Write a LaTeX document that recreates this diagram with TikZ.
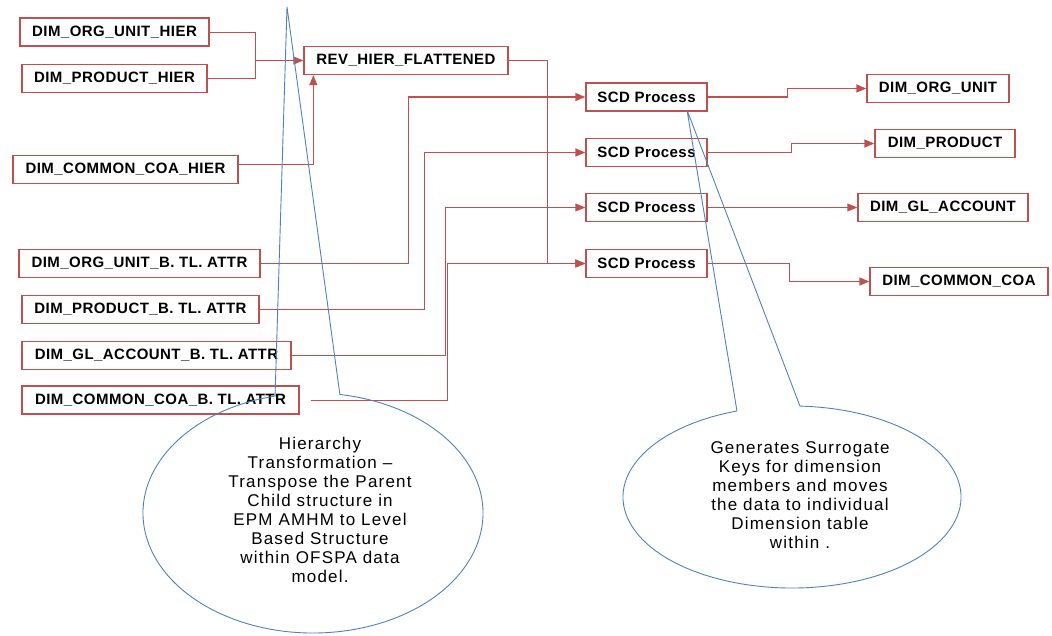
\documentclass[tikz,border=0pt]{standalone}
\usepackage{fontspec}
\setmainfont{Liberation Sans}
\newfontfamily\tblfont[LetterSpace=3.0]{Liberation Sans}
\newfontfamily\notefont[LetterSpace=7.0]{Liberation Sans}
\usetikzlibrary{arrows.meta,calc}
\definecolor{tblred}{RGB}{192,80,77}
\definecolor{noteblue}{RGB}{79,129,189}

\begin{document}
\begin{tikzpicture}[x=1pt,y=1pt,
	tbl/.style={draw=tblred, line width=1.3pt, fill=white, inner sep=0pt, minimum height=28pt, font=\tblfont\bfseries\fontsize{15}{18}\selectfont},
	flow/.style={draw=tblred, line width=1.4pt},
	thinflow/.style={draw=tblred, line width=0.8pt},
	feed/.style={-{Triangle[length=10pt,width=8pt]}},
	note/.style={draw=noteblue, line width=0.9pt, line join=round},
	notetext/.style={align=center, font=\notefont\fontsize{17}{19}\selectfont}]
	\useasboundingbox (0,0) rectangle (1052,-635);
	\node[tbl, minimum width=189pt] (ouh) at (114.5,-32) {DIM\_ORG\_UNIT\_HIER};
	\node[tbl, minimum width=185pt] (ph) at (114.5,-78.5) {DIM\_PRODUCT\_HIER};
	\node[tbl, minimum width=225pt] (cch) at (125.5,-169.5) {DIM\_COMMON\_COA\_HIER};
	\node[tbl, minimum width=204pt] (rev) at (406,-60.5) {REV\_HIER\_FLATTENED};
	\node[tbl, minimum width=241pt] (oua) at (139.5,-263.5) {DIM\_ORG\_UNIT\_B. TL. ATTR};
	\node[tbl, minimum width=237pt] (pa) at (140.5,-309.5) {DIM\_PRODUCT\_B. TL. ATTR};
	\node[tbl, minimum width=269pt] (gla) at (156.5,-355.5) {DIM\_GL\_ACCOUNT\_B. TL. ATTR};
	\node[tbl, minimum width=277pt] (cca) at (160.5,-400) {DIM\_COMMON\_COA\_B. TL. ATTR};
	\node[tbl, minimum width=121pt] (scd1) at (646.5,-97) {SCD Process};
	\node[tbl, minimum width=121pt] (scd2) at (646.5,-152.5) {SCD Process};
	\node[tbl, minimum width=121pt] (scd3) at (646.5,-207.5) {SCD Process};
	\node[tbl, minimum width=121pt] (scd4) at (646.5,-263.5) {SCD Process};
	\node[tbl, minimum width=142pt] (dou) at (938,-88.5) {DIM\_ORG\_UNIT};
	\node[tbl, minimum width=140pt] (dp) at (945,-143.5) {DIM\_PRODUCT};
	\node[tbl, minimum width=170pt] (dgl) at (943,-207.5) {DIM\_GL\_ACCOUNT};
	\node[tbl, minimum width=178pt] (dcc) at (959,-281.5) {DIM\_COMMON\_COA};

	\coordinate (hj) at ($(rev.west)+(-48,0)$);
	\draw[thinflow] (ouh.east) -| (hj);
	\draw[thinflow] (ph.east) -| (hj);
	\draw[thinflow,feed] (hj) -- (rev.west);
	\draw[flow,feed] ([yshift=5pt]cch.east) -| ($(rev.south west)+(10,0)$);
	\draw[thinflow,feed] (rev.east) -- ++(39,0) |- (scd4.west);
	\draw[flow,feed] (oua.east) -- ++(148,0) |- (scd1.west);
	\draw[flow,feed] (pa.east) -- ++(165,0) |- (scd2.west);
	\draw[thinflow,feed] (gla.east) -- ++(154,0) |- (scd3.west);
	\draw[thinflow,feed] ([xshift=11pt]cca.east) -- ++(137,0) |- (scd4.west);
	\draw[flow,feed] (scd1.east) -- ++(80,0) |- (dou.west);
	\draw[flow,feed] (scd2.east) -- ++(84,0) |- (dp.west);
	\draw[thinflow,feed] (scd3.east) -- ++(75,0) |- (dgl.west);
	\draw[flow,feed] (scd4.east) -- ++(82,0) |- (dcc.west);

	\coordinate (lc) at (313,-513);
	\coordinate (ltip) at (287,-7);
	\coordinate (rc) at (792,-497);
	\coordinate (rtip) at (687,-110);
	\draw[note] (ltip) -- ($(lc)+(102.9:170 and 120)$) arc[start angle=102.9, end angle=440.9, x radius=170, y radius=120] -- cycle;
	\draw[note] (rtip) -- ($(rc)+(109:169 and 91)$) arc[start angle=109, end angle=447.3, x radius=169, y radius=91] -- cycle;
	\node[notetext] (lnote) at (320,-510) {Hierarchy\\Transformation –\\Transpose the Parent\\Child structure in\\EPM AMHM to Level\\Based Structure\\within OFSPA data\\model.};
	\node[notetext] (rnote) at (800,-495) {Generates Surrogate\hspace{16pt}\\Keys for dimension\\members and moves\\the data to individual\\Dimension table\\within .};
\end{tikzpicture}
\end{document}
